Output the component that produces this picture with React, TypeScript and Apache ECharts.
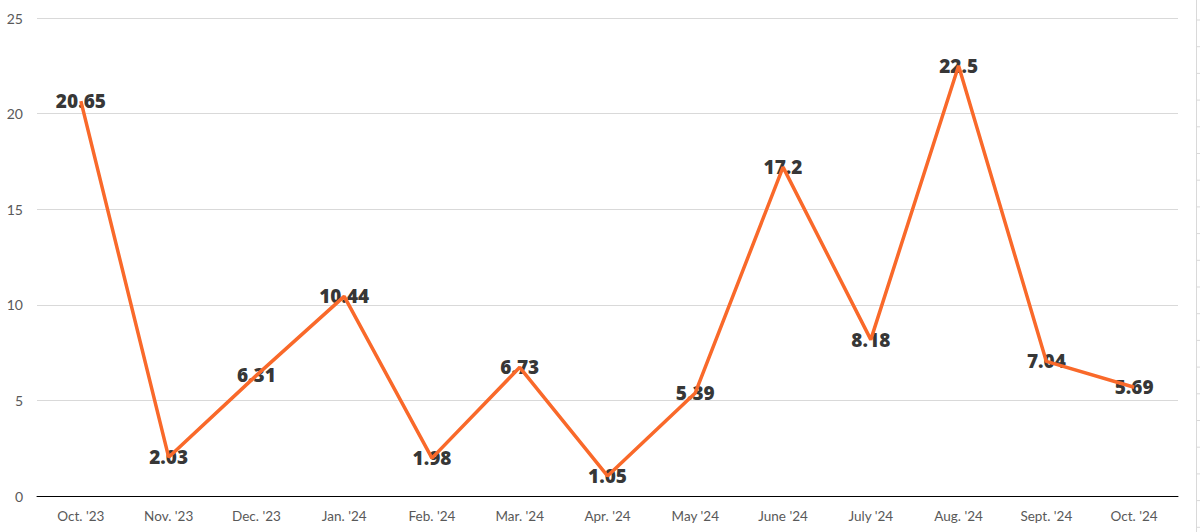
import React, { useEffect, useRef } from "react";
import * as echarts from "echarts";

const categories = ["Oct. '23", "Nov. '23", "Dec. '23", "Jan. '24", "Feb. '24", "Mar. '24", "Apr. '24", "May '24", "June '24", "July '24", "Aug. '24", "Sept. '24", "Oct. '24"];
const values = [20.65, 2.03, 6.31, 10.44, 1.98, 6.73, 1.05, 5.39, 17.2, 8.18, 22.5, 7.04, 5.69];
const yTicks = { min: 0, max: 25, interval: 5 };

export default function App() {
  const ref = useRef<HTMLDivElement>(null);
  useEffect(() => {
    if (!ref.current) return;
    const chart = echarts.init(ref.current, undefined, { renderer: "svg" });
    const sideTicks: any[] = [];
    for (let i = 0; i < 20; i++) {
      const y = 20 + i * 26.7;
      sideTicks.push({ type: "line", shape: { x1: 1197, y1: y, x2: 1200, y2: y }, style: { stroke: "#d9d9d9", lineWidth: 1 }, silent: true });
    }
    chart.setOption({
      animation: false,
      backgroundColor: "#ffffff",
      grid: { left: 37, right: 22, top: 18, bottom: 36 },
      xAxis: {
        type: "category",
        data: categories,
        boundaryGap: true,
        axisLine: { show: true, lineStyle: { color: "#000000", width: 1 } },
        axisTick: { show: false },
        axisLabel: { color: "#595959", fontSize: 13.5, fontFamily: "Lato", margin: 13 },
        splitLine: { show: false },
      },
      yAxis: {
        type: "value",
        min: yTicks.min,
        max: yTicks.max,
        interval: yTicks.interval,
        axisLine: { show: false },
        axisTick: { show: false },
        axisLabel: { color: "#595959", fontSize: 14, fontFamily: "Lato", margin: 14 },
        splitLine: { lineStyle: { color: "#d9d9d9", width: 1 } },
      },
      series: [
        {
          type: "scatter",
          data: values,
          symbolSize: 2,
          itemStyle: { color: "rgba(0,0,0,0)" },
          label: {
            show: true,
            position: "inside",
            formatter: (p: any) => String(p.value),
            color: "#000000",
            fontSize: 19,
            fontWeight: 800,
            fontFamily: "Open Sans",
            textBorderWidth: 0,
            offset: [0, 0],
          },
          z: 2,
        },
        {
          type: "line",
          data: values,
          symbol: "none",
          lineStyle: { color: "#F9692A", width: 3.5 },
          z: 5,
        },
      ],
      graphic: [
        { type: "line", shape: { x1: 1196.5, y1: 0, x2: 1196.5, y2: 532 }, style: { stroke: "#d9d9d9", lineWidth: 1 }, silent: true },
        ...sideTicks,
      ],
    });
    return () => chart.dispose();
  }, []);
  return <div ref={ref} style={{ position: "fixed", left: 0, top: 0, width: 1200, height: 532 }} />;
}
